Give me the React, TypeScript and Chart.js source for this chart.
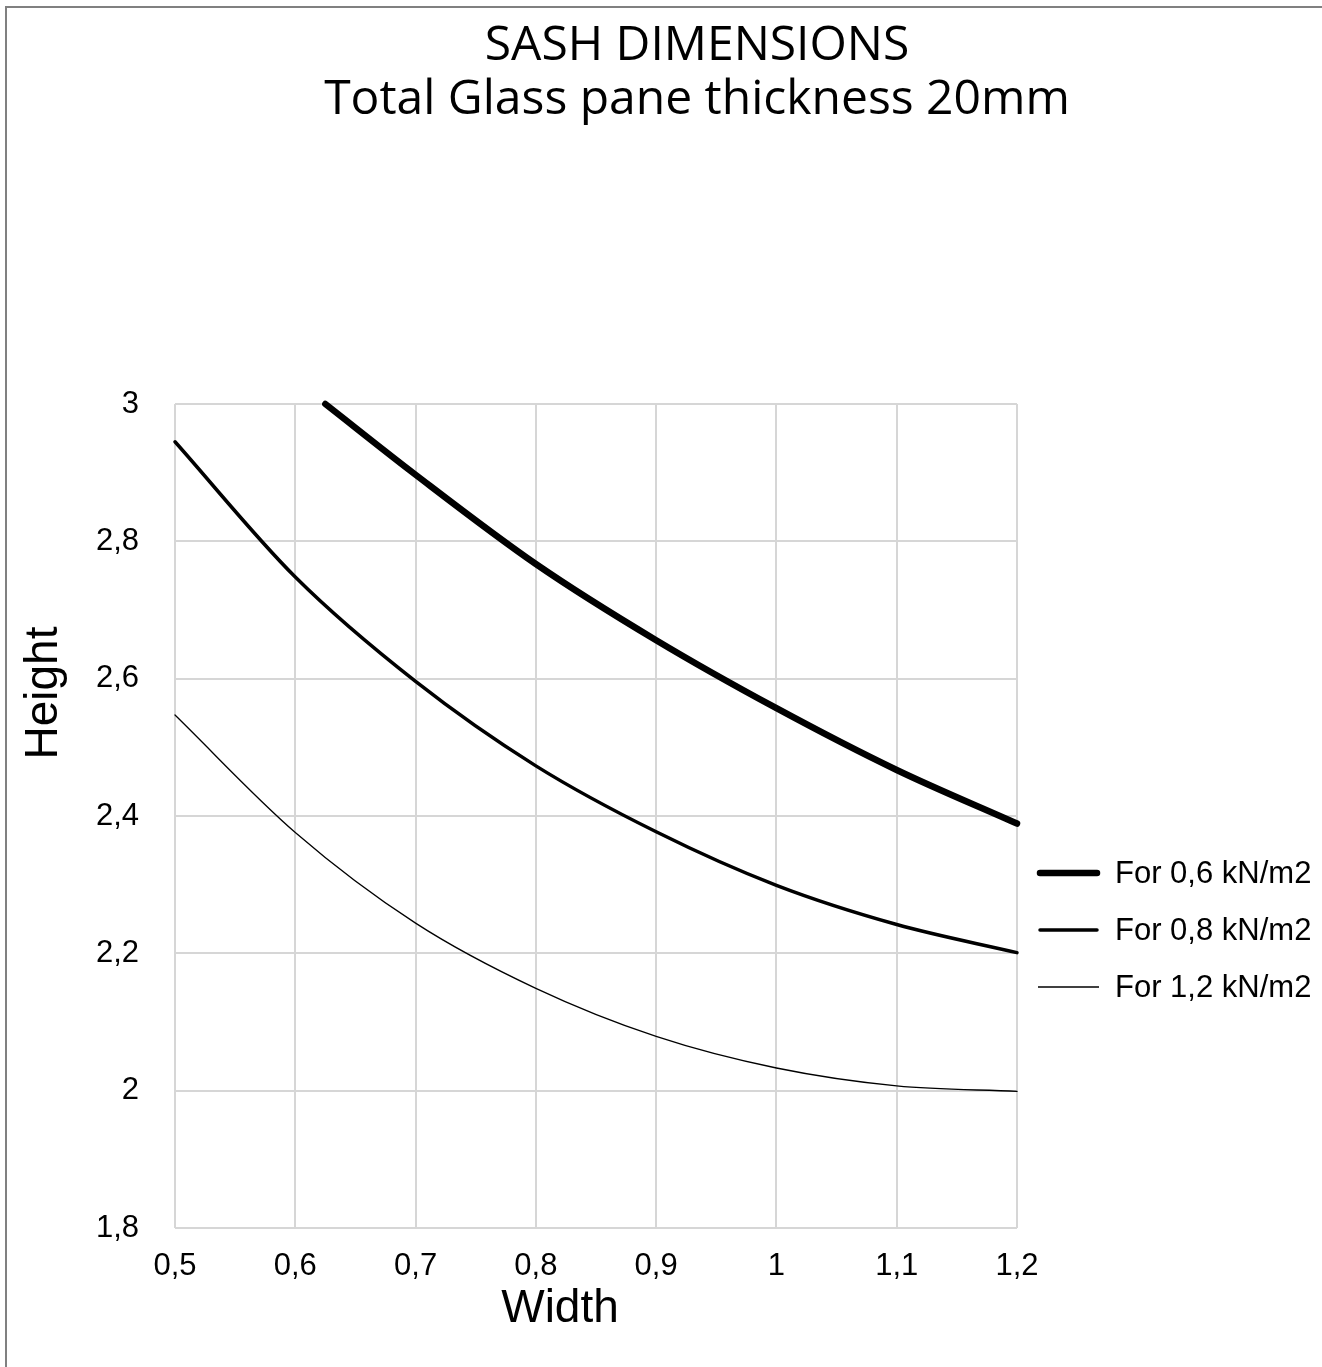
import React, { useEffect, useRef } from 'react';
import { Chart, registerables } from 'chart.js';

Chart.register(...registerables);

// ---- Data ----
const titleLines = ['SASH DIMENSIONS', 'Total Glass pane thickness 20mm'];
const xAxisTitle = 'Width';
const yAxisTitle = 'Height';
const seriesLabels = ['For 0,6 kN/m2', 'For 0,8 kN/m2', 'For 1,2 kN/m2'];

const widths06 = [0.625, 0.7, 0.8, 0.9, 1.0, 1.1, 1.2];
const heights06 = [3.0, 2.897, 2.767, 2.656, 2.557, 2.467, 2.389];

const widths08 = [0.5, 0.6, 0.7, 0.8, 0.9, 1.0, 1.1, 1.2];
const heights08 = [2.945, 2.748, 2.596, 2.473, 2.377, 2.299, 2.242, 2.201];

const widths12 = [0.5, 0.6, 0.7, 0.8, 0.9, 1.0, 1.1, 1.2];
const heights12 = [2.547, 2.376, 2.244, 2.149, 2.079, 2.033, 2.007, 1.999];

const xTickValues = [0.5, 0.6, 0.7, 0.8, 0.9, 1.0, 1.1, 1.2];
const xTickLabels = ['0,5', '0,6', '0,7', '0,8', '0,9', '1', '1,1', '1,2'];
const yTickValues = [1.8, 2.0, 2.2, 2.4, 2.6, 2.8, 3.0];
const yTickLabels = ['1,8', '2', '2,2', '2,4', '2,6', '2,8', '3'];

// ---- Styles ----
const lineWidths = [6.5, 3.5, 1.3];
const GRID = '#d6d6d6';
const TEXT = '#000000';
const SANS = '"Liberation Sans", Arial, sans-serif';

const toPoints = (xs: number[], ys: number[]) => xs.map((x, i) => ({ x, y: ys[i] }));

const overlayPlugin = {
  id: 'overlayText',
  afterDraw(chart: any) {
    const { ctx, chartArea } = chart;
    ctx.save();
    ctx.fillStyle = TEXT;
    // axis titles
    ctx.font = `46px ${SANS}`;
    ctx.textAlign = 'center';
    ctx.textBaseline = 'middle';
    ctx.fillText(xAxisTitle, chartArea.left + 385, chartArea.bottom + 81);
    ctx.save();
    ctx.translate(chartArea.left - 131, chartArea.top + 289);
    ctx.rotate(-Math.PI / 2);
    ctx.fillText(yAxisTitle, 0, 0);
    ctx.restore();

    // legend
    const ds = chart.data.datasets;
    const x0 = chartArea.right + 23;
    const x1 = chartArea.right + 80;
    const tx = chartArea.right + 98;
    ds.forEach((d: any, i: number) => {
      const y = chartArea.bottom - 355 + i * 57;
      ctx.beginPath();
      ctx.lineCap = d.borderWidth > 2 ? 'round' : 'butt';
      ctx.strokeStyle = d.borderColor;
      ctx.lineWidth = d.borderWidth;
      ctx.moveTo(i === 2 ? x0 - 2 : x0, y);
      ctx.lineTo(i === 2 ? x1 + 2 : x1, y);
      ctx.stroke();
      ctx.font = `31px ${SANS}`;
      ctx.textAlign = 'left';
      ctx.textBaseline = 'middle';
      ctx.fillStyle = TEXT;
      ctx.fillText(d.label, tx, y + 1);
    });
    ctx.restore();
  },
};

export default function App() {
  const canvasRef = useRef<HTMLCanvasElement | null>(null);

  useEffect(() => {
    if (!canvasRef.current) return;
    const series = [
      toPoints(widths06, heights06),
      toPoints(widths08, heights08),
      toPoints(widths12, heights12),
    ];
    const chart = new Chart(canvasRef.current, {
      type: 'line',
      data: {
        datasets: series.map((pts, i) => ({
          label: seriesLabels[i],
          data: pts,
          borderColor: '#000000',
          backgroundColor: '#000000',
          borderWidth: lineWidths[i],
          borderCapStyle: 'round',
          borderJoinStyle: 'round',
          pointRadius: 0,
          fill: false,
          cubicInterpolationMode: 'monotone',
          clip: false,
        })),
      },
      options: {
        responsive: false,
        animation: false,
        devicePixelRatio: 1,
        layout: { padding: { left: 72, right: 0, top: 0, bottom: 0 } },
        plugins: {
          legend: { display: false },
          tooltip: { enabled: false },
          title: {
            display: true,
            text: titleLines,
            color: TEXT,
            font: { family: '"Open Sans", sans-serif', size: 48, weight: 'normal', lineHeight: 1.125 },
            padding: { top: 19, bottom: 277 },
          },
        },
        scales: {
          x: {
            type: 'linear',
            min: 0.5,
            max: 1.2,
            afterBuildTicks: (scale: any) => {
              scale.ticks = xTickValues.map((v) => ({ value: v }));
            },
            afterFit: (scale: any) => {
              scale.height = 139;
            },
            ticks: {
              color: TEXT,
              font: { family: SANS, size: 31 },
              padding: 20,
              maxRotation: 0,
              autoSkip: false,
              callback: (_v: any, i: number) => xTickLabels[i],
            },
            grid: { color: GRID, lineWidth: 2, drawTicks: false },
            border: { display: false },
          },
          y: {
            type: 'linear',
            position: 'left',
            min: 1.8,
            max: 3.0,
            afterBuildTicks: (scale: any) => {
              scale.ticks = yTickValues.map((v) => ({ value: v }));
            },
            afterFit: (scale: any) => {
              scale.width = 103;
            },
            ticks: {
              color: TEXT,
              font: { family: SANS, size: 31 },
              padding: 36,
              autoSkip: false,
              callback: (_v: any, i: number) => yTickLabels[i],
            },
            grid: { color: GRID, lineWidth: 2, drawTicks: false },
            border: { display: false },
          },
          yRight: {
            type: 'linear',
            position: 'right',
            min: 1.8,
            max: 3.0,
            afterFit: (scale: any) => {
              scale.width = 305;
            },
            ticks: { display: false },
            grid: { display: false, drawOnChartArea: false },
            border: { display: false },
          },
        },
      },
      plugins: [overlayPlugin],
    } as any);
    return () => chart.destroy();
  }, []);

  return (
    <div style={{ position: 'fixed', left: 0, top: 0, width: 1322, height: 1367, overflow: 'hidden', background: '#ffffff' }}>
      <div
        style={{
          position: 'absolute',
          left: 5,
          top: 6,
          width: 1400,
          height: 1400,
          borderLeft: '2px solid #808080',
          borderTop: '2px solid #808080',
          pointerEvents: 'none',
        }}
      />
      <canvas
        ref={canvasRef}
        width={1322}
        height={1367}
        style={{ position: 'absolute', left: 0, top: 0, width: 1322, height: 1367 }}
      />
    </div>
  );
}
